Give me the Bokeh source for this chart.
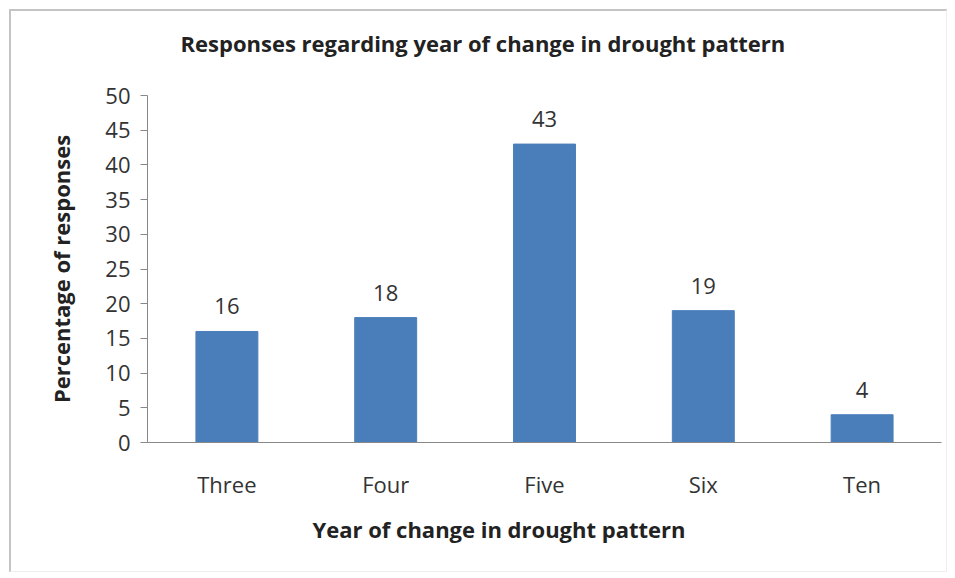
from bokeh.plotting import figure
from bokeh.models import ColumnDataSource, Range1d, FactorRange, FixedTicker, Title
from bokeh.core.properties import value
from bokeh.embed import file_html
from bokeh.resources import INLINE

categories = ["Three", "Four", "Five", "Six", "Ten"]
responses = [16, 18, 43, 19, 4]
y_ticks = [0, 5, 10, 15, 20, 25, 30, 35, 40, 45, 50]

FONT = "Open Sans"
TXT = "#333333"

src = ColumnDataSource(dict(cat=categories, val=responses, lab=[str(v) for v in responses]))

p = figure(width=938, height=563, x_range=FactorRange(*categories, range_padding=0),
           y_range=Range1d(0, 50), output_backend="svg", toolbar_location=None,
           min_border_left=136, min_border_right=8, min_border_top=84, min_border_bottom=132,
           title=None,
           styles={"margin-left": "9px", "margin-top": "9px",
                   "border-left": "2px solid #c4c4c4", "border-top": "2px solid #c4c4c4",
                   "border-right": "1px solid #eeeeee", "border-bottom": "1px solid #eeeeee"})
p.outline_line_color = None
p.xgrid.grid_line_color = None
p.ygrid.grid_line_color = None

p.vbar(x="cat", top="val", width=0.39, source=src, fill_color="#4a7ebb", line_color="#4a7ebb")
p.text(x="cat", y="val", text="lab", source=src, y_offset=-25, text_align="center",
       text_baseline="middle", text_font=value(FONT), text_font_size="22px", text_color=TXT)

p.yaxis.ticker = FixedTicker(ticks=y_ticks)
p.yaxis.axis_line_color = "#888888"
p.yaxis.major_tick_line_color = "#888888"
p.yaxis.major_tick_in = 0
p.yaxis.major_tick_out = 7
p.yaxis.minor_tick_line_color = None
p.yaxis.major_label_text_font = FONT
p.yaxis.major_label_text_font_size = "22px"
p.yaxis.major_label_text_color = TXT
p.yaxis.major_label_standoff = 10

p.xaxis.axis_line_color = "#888888"
p.xaxis.major_tick_line_color = None
p.xaxis.minor_tick_line_color = None
p.xaxis.major_label_text_font = FONT
p.xaxis.major_label_text_font_size = "22px"
p.xaxis.major_label_text_color = TXT
p.xaxis.major_label_standoff = 20

# spacer panel between frame and title
p.add_layout(Title(text=" ", text_font_size="1px", standoff=33), "above")
p.add_layout(Title(text="Responses regarding year of change in drought pattern", align="left", offset=33,
                   text_font=FONT, text_font_size="22px", text_font_style="bold",
                   text_color="#222222", standoff=4), "above")
p.add_layout(Title(text="Year of change in drought pattern", align="left", offset=165,
                   text_font=FONT, text_font_size="22px", text_font_style="bold",
                   text_color="#222222", standoff=20), "below")
p.yaxis.axis_label = "Percentage of responses"
p.yaxis.axis_label_text_font = FONT
p.yaxis.axis_label_text_font_size = "22px"
p.yaxis.axis_label_text_font_style = "bold"
p.yaxis.axis_label_text_color = "#222222"
p.yaxis.axis_label_standoff = 26

open("out.html", "w").write(file_html(p, INLINE))
